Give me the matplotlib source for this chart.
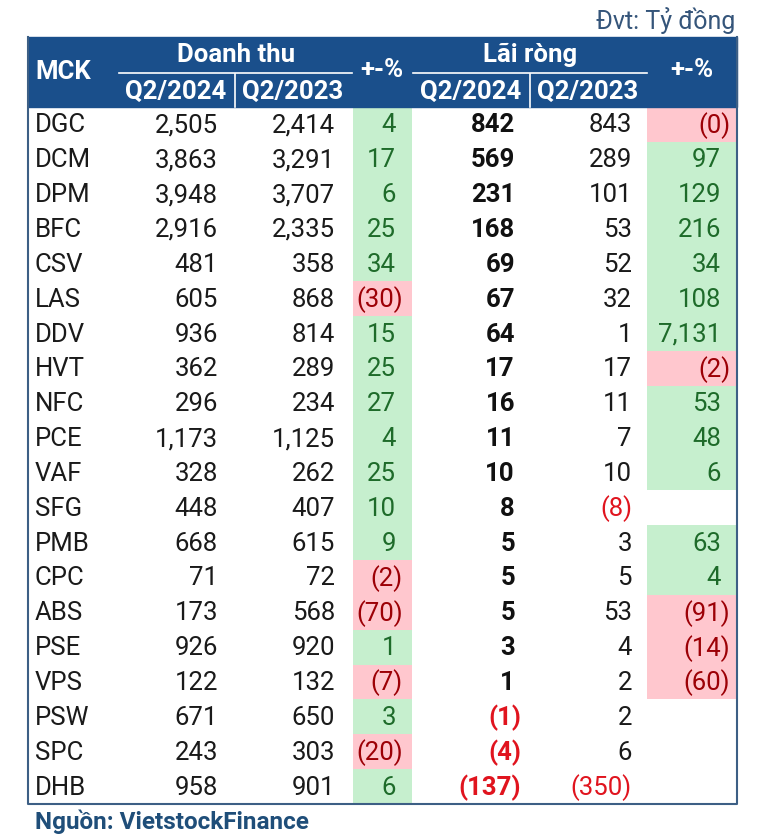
import matplotlib
matplotlib.use("Agg")
import matplotlib.pyplot as plt
from matplotlib.patches import Rectangle

plt.rcParams['font.family'] = ['Roboto', 'DejaVu Sans']

# du lieu bang (ty dong)
mck = ["DGC", "DCM", "DPM", "BFC", "CSV", "LAS", "DDV", "HVT", "NFC", "PCE",
       "VAF", "SFG", "PMB", "CPC", "ABS", "PSE", "VPS", "PSW", "SPC", "DHB"]
dt_2024 = [2505, 3863, 3948, 2916, 481, 605, 936, 362, 296, 1173,
           328, 448, 668, 71, 173, 926, 122, 671, 243, 958]
dt_2023 = [2414, 3291, 3707, 2335, 358, 868, 814, 289, 234, 1125,
           262, 407, 615, 72, 568, 920, 132, 650, 303, 901]
dt_pct = [4, 17, 6, 25, 34, -30, 15, 25, 27, 4,
          25, 10, 9, -2, -70, 1, -7, 3, -20, 6]
lr_2024 = [842, 569, 231, 168, 69, 67, 64, 17, 16, 11,
           10, 8, 5, 5, 5, 3, 1, -1, -4, -137]
lr_2023 = [843, 289, 101, 53, 52, 32, 1, 17, 11, 7,
           10, -8, 3, 5, 53, 4, 2, 2, 6, -350]
lr_pct = [-0.1, 97, 129, 216, 34, 108, 7131, -2, 53, 48,
          6, None, 63, 4, -91, -14, -60, None, None, None]

HEAD = "#1a4f8b"
GREEN_BG, GREEN_TX = "#c6efce", "#1e6b2a"
RED_BG, RED_TX = "#ffc7ce", "#9c0006"
NEG_TX = "#e0141e"
BORDER = "#3d5f85"


def fmt(v):
    s = "{:,}".format(abs(int(round(v))))
    return "(" + s + ")" if v < 0 else s


W, H = 758, 838
fig = plt.figure(figsize=(W / 100, H / 100), dpi=100)
ax = fig.add_axes([0, 0, 1, 1])
ax.set_xlim(0, W)
ax.set_ylim(H, 0)
ax.axis("off")

x0, x1 = 28, 737
top, head_h = 37, 70
row_h = 34.85
y_rows = top + head_h
n = len(mck)
bottom = y_rows + n * row_h

# header
ax.add_patch(Rectangle((x0, top), x1 - x0, head_h, color=HEAD, zorder=1))
hs = 18.5
ax.text(35, 72, "MCK", color="white", fontsize=hs, fontweight="bold", va="center", ha="left")
ax.text(236, 55, "Doanh thu", color="white", fontsize=hs, fontweight="bold", va="center", ha="center")
ax.plot([119, 352], [73, 73], color="white", lw=1.2)
ax.plot([235, 235], [74, y_rows], color="white", lw=1.2)
ax.text(176, 92, "Q2/2024", color="white", fontsize=hs, fontweight="bold", va="center", ha="center")
ax.text(293, 92, "Q2/2023", color="white", fontsize=hs, fontweight="bold", va="center", ha="center")
ax.text(382, 70, "+-%", color="white", fontsize=hs, fontweight="bold", va="center", ha="center")
ax.text(530, 55, "Lãi ròng", color="white", fontsize=hs, fontweight="bold", va="center", ha="center")
ax.plot([413, 647], [73, 73], color="white", lw=1.2)
ax.plot([530, 530], [74, y_rows], color="white", lw=1.2)
ax.text(471, 92, "Q2/2024", color="white", fontsize=hs, fontweight="bold", va="center", ha="center")
ax.text(588, 92, "Q2/2023", color="white", fontsize=hs, fontweight="bold", va="center", ha="center")
ax.text(692, 70, "+-%", color="white", fontsize=hs, fontweight="bold", va="center", ha="center")

fs = 18.5
for i in range(n):
    yt = y_rows + i * row_h
    yc = yt + row_h / 2 + 1
    ax.text(35, yc, mck[i], fontsize=fs, color="#1a1a1a", va="center", ha="left")
    ax.text(218, yc, fmt(dt_2024[i]), fontsize=fs, color="#1a1a1a", va="center", ha="right")
    ax.text(335, yc, fmt(dt_2023[i]), fontsize=fs, color="#1a1a1a", va="center", ha="right")

    v = dt_pct[i]
    ax.add_patch(Rectangle((353, yt), 59, row_h, color=GREEN_BG if v >= 0 else RED_BG, lw=0, zorder=0))
    ax.text(396 if v >= 0 else 403, yc, fmt(v), fontsize=fs,
            color=GREEN_TX if v >= 0 else RED_TX, va="center", ha="right")

    v = lr_2024[i]
    ax.text(515 if v >= 0 else 521, yc, fmt(v), fontsize=fs, fontweight="bold",
            color="#111111" if v >= 0 else NEG_TX, va="center", ha="right")
    v = lr_2023[i]
    ax.text(632, yc, fmt(v), fontsize=fs,
            color="#1a1a1a" if v >= 0 else NEG_TX, va="center", ha="right")

    v = lr_pct[i]
    if v is not None:
        ax.add_patch(Rectangle((647, yt), 90, row_h, color=GREEN_BG if v >= 0 else RED_BG, lw=0, zorder=0))
        ax.text(721 if v >= 0 else 730, yc, fmt(v), fontsize=fs,
                color=GREEN_TX if v >= 0 else RED_TX, va="center", ha="right")

# vien bang
ax.plot([x0, x0, x1, x1], [top, bottom, bottom, top], color=BORDER, lw=1.5, zorder=3)

ax.text(735, 20, "Đvt: Tỷ đồng", fontsize=18, color="#35557a", va="center", ha="right")
ax.text(35, 822, "Nguồn: VietstockFinance", fontsize=17.5, fontweight="bold", color="#1f4e79",
        va="center", ha="left")

fig.savefig("out.png", dpi=100)
